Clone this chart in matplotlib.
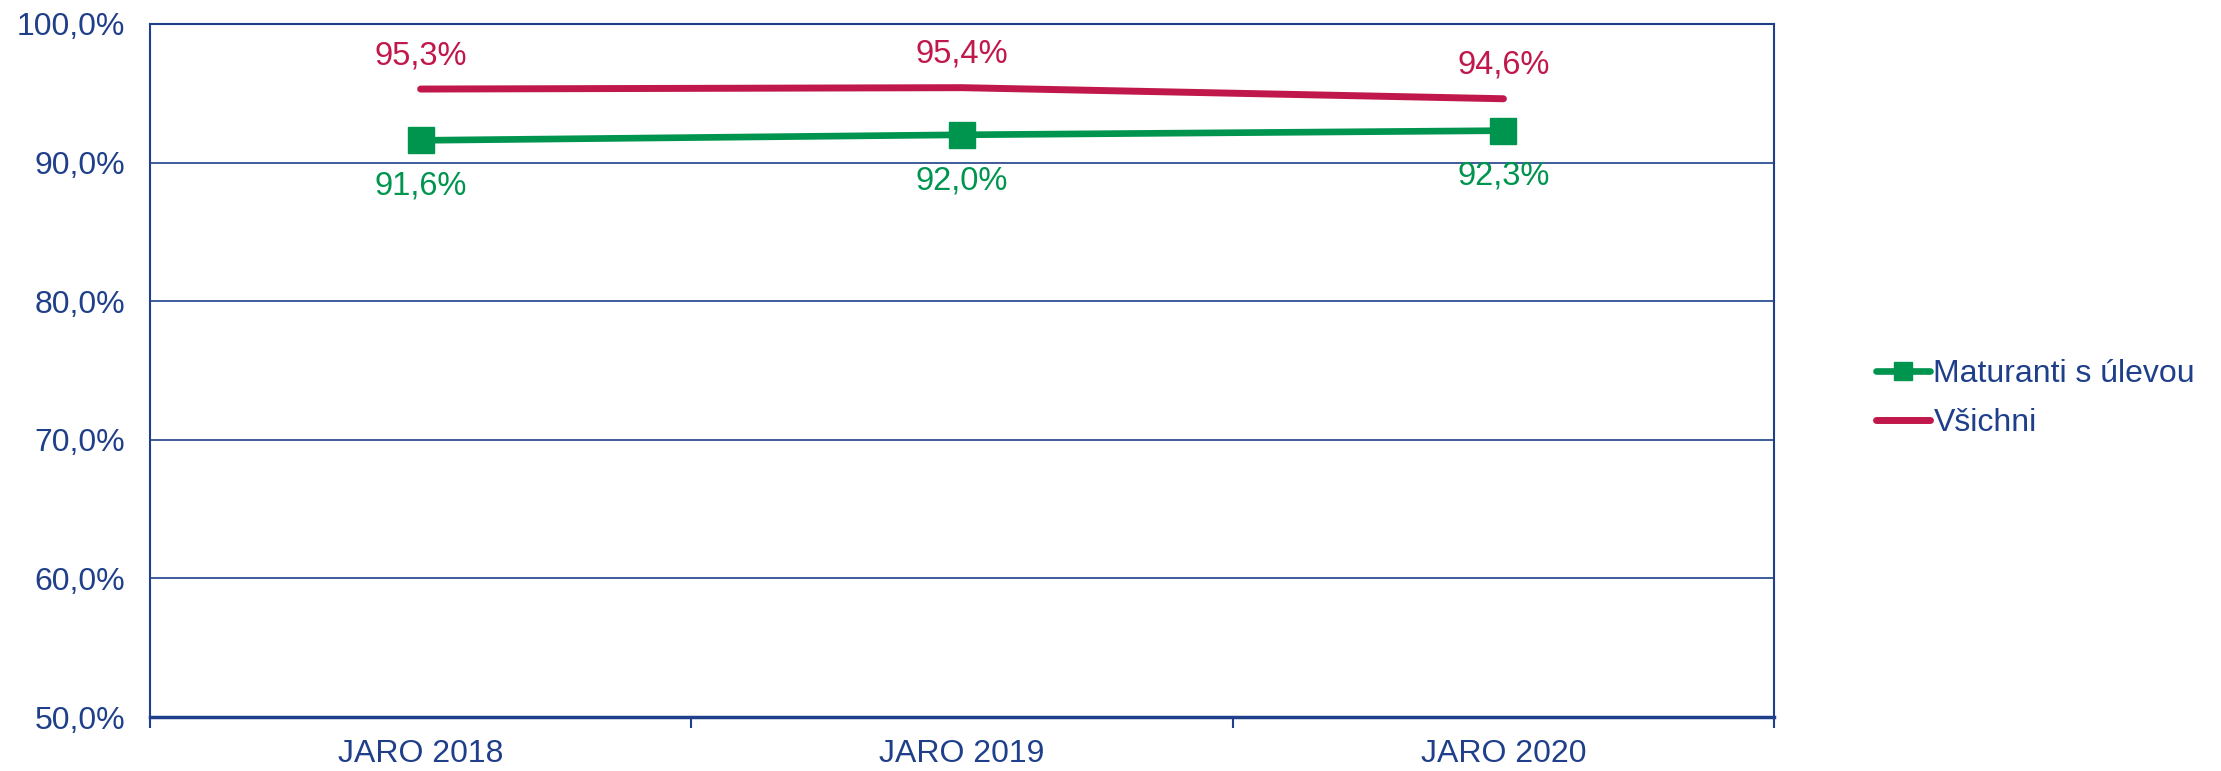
import matplotlib.pyplot as plt
from matplotlib.ticker import FuncFormatter, FixedLocator

categories = ['JARO 2018', 'JARO 2019', 'JARO 2020']
ulevou = [91.6, 92.0, 92.3]
vsichni = [95.3, 95.4, 94.6]

BLUE = '#1F3F8A'
GREEN = '#00954F'
RED = '#C0184A'

plt.rcParams['font.family'] = ['Liberation Sans', 'DejaVu Sans']

fig = plt.figure(figsize=(22.21, 7.71), dpi=100)
ax = fig.add_axes([0.0675, 0.070, 0.7313, 0.899])

x = range(len(categories))
ax.plot(x, ulevou, color=GREEN, lw=4.8, marker='s', ms=19, label='Maturanti s úlevou',
        solid_capstyle='round', zorder=3)
ax.plot(x, vsichni, color=RED, lw=5, label='Všichni', solid_capstyle='round', zorder=3)

fmt = lambda v: f'{v:.1f}%'.replace('.', ',')
for i, v in enumerate(vsichni):
    ax.annotate(fmt(v), (i, v), xytext=(0, 24), textcoords='offset points',
                ha='center', va='center', color=RED, fontsize=23.5)
for i, v in enumerate(ulevou):
    ax.annotate(fmt(v), (i, v), xytext=(0, -33), textcoords='offset points',
                ha='center', va='center', color=GREEN, fontsize=23.5)

ax.set_xlim(-0.5, 2.5)
ax.set_ylim(50, 100)
ax.set_yticks(range(50, 101, 10))
ax.yaxis.set_major_formatter(FuncFormatter(lambda v, p: fmt(v)))
ax.set_xticks(list(x))
ax.set_xticklabels(categories)
ax.xaxis.set_minor_locator(FixedLocator([-0.5, 0.5, 1.5, 2.5]))
ax.tick_params(axis='x', which='major', length=0, pad=16, labelsize=23, labelcolor=BLUE)
ax.tick_params(axis='x', which='minor', length=8, width=1.5, color=BLUE, direction='out')
ax.tick_params(axis='y', length=0, pad=18, labelsize=23, labelcolor=BLUE)

ax.grid(axis='y', color=BLUE, lw=1.2)
ax.set_axisbelow(True)
for s in ax.spines.values():
    s.set_color(BLUE)
    s.set_linewidth(1.5)
ax.spines['bottom'].set_linewidth(2.5)

leg = ax.legend(loc='center left', bbox_to_anchor=(1.045, 0.459), frameon=False,
                fontsize=23, handlelength=1.7, handletextpad=0.1, labelspacing=0.6,
                markerscale=0.7)
for t in leg.get_texts():
    t.set_color(BLUE)

fig.savefig('out.png', dpi=100)
